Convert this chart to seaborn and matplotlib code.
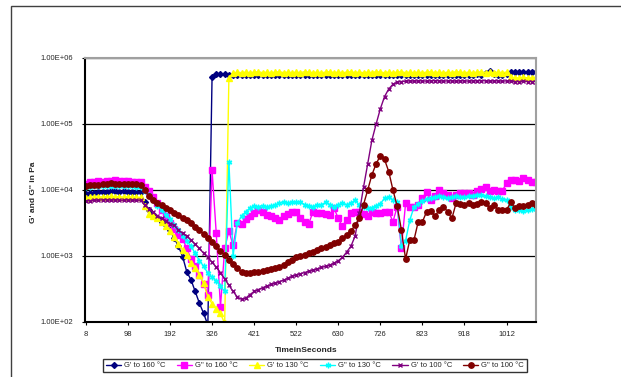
import numpy as np
import pandas as pd
import matplotlib
matplotlib.use("Agg")
import matplotlib.pyplot as plt
import seaborn as sns
from matplotlib.ticker import FixedLocator, FixedFormatter, NullLocator
from matplotlib.patches import Rectangle

# category axis: one slot per reading, time label on every 10th reading
tick_pos = [0, 10, 20, 30, 40, 50, 60, 70, 80, 90, 100]
tick_lab = ["8", "98", "192", "326", "421", "522", "630", "726", "823", "918", "1012"]
y_ticks = [1e2, 1e3, 1e4, 1e5, 1e6]
y_lab = ["1.00E+02", "1.00E+03", "1.00E+04", "1.00E+05", "1.00E+06"]

# G' 160 C
g1_160 = [8800, 9000, 9100, 9300, 9300, 9400, 9500, 9500, 9400, 9500,
          9400, 9400, 9300, 9200, 6500, 5000, 4200, 3700, 3300, 2900,
          2450, 1860, 1410, 980, 575, 435, 290, 192, 135, 90,
          5.1e5, 5.7e5, 5.7e5, 5.7e5, 5.6e5, 5.5e5, 5.5e5, 5.6e5, 5.5e5, 5.5e5,
          5.5e5, 5.6e5, 5.5e5, 5.5e5, 5.5e5, 5.6e5, 5.5e5, 5.5e5, 5.6e5, 5.5e5,
          5.5e5, 5.5e5, 5.6e5, 5.5e5, 5.5e5, 5.5e5, 5.6e5, 5.5e5, 5.5e5, 5.5e5,
          5.6e5, 5.5e5, 5.5e5, 5.5e5, 5.6e5, 5.5e5, 5.5e5, 5.6e5, 5.5e5, 5.5e5,
          5.5e5, 5.6e5, 5.5e5, 5.5e5, 5.6e5, 5.5e5, 5.5e5, 5.5e5, 5.6e5, 5.5e5,
          5.5e5, 5.6e5, 5.5e5, 5.5e5, 5.5e5, 5.6e5, 5.5e5, 5.5e5, 5.6e5, 5.5e5,
          5.5e5, 5.6e5, 5.5e5, 5.7e5, 5.6e5, 6.0e5, 6.4e5, 5.8e5, 5.6e5, 5.6e5,
          5.7e5, 6.1e5, 6.2e5, 6.2e5, 6.2e5, 6.1e5, 6.2e5, 6.2e5]
# G'' 160 C
g2_160 = [12500, 13000, 13200, 13500, 13300, 13500, 13800, 14000, 13800, 13600,
          13500, 13400, 13200, 13000, 11000, 9500, 7800, 6300, 5000, 4000,
          3200, 2600, 2100, 1800, 1300, 900, 700, 520, 380, 260,
          20000, 2200, 170, 1300, 2400, 1450, 3200, 3100, 3600, 4100,
          4500, 5000, 4600, 4200, 4000, 3700, 3500, 4100, 4400, 4600,
          4700, 3700, 3300, 3100, 4700, 4500, 4450, 4300, 4200, 5300,
          3700, 2800, 3500, 4450, 4700, 4700, 4300, 4000, 4700, 4500,
          4450, 4700, 4700, 3300, 5600, 1300, 6300, 5600, 5500, 6000,
          7500, 9400, 7000, 8000, 10000, 8900, 8500, 7500, 8400, 8900,
          9000, 9000, 8500, 9500, 10500, 11200, 9500, 10000, 9500, 9800,
          12600, 14200, 14200, 13500, 15100, 14000, 13400, 13000]
# G' 130 C
g1_130 = [7600, 7700, 7800, 7800, 7900, 7900, 8000, 7900, 7900, 7800,
          7900, 7800, 7800, 7700, 5800, 4350, 4050, 3730, 3300, 2850,
          2410, 1960, 1520, 1230, 1040, 780, 650, 515, 385, 240,
          190, 160, 135, 95, 5.0e5, 5.9e5, 6.1e5, 6.0e5, 6.1e5, 6.0e5,
          6.1e5, 6.2e5, 6.0e5, 6.1e5, 6.0e5, 6.1e5, 6.2e5, 6.0e5, 6.1e5, 6.0e5,
          6.1e5, 6.0e5, 6.2e5, 6.1e5, 6.0e5, 6.1e5, 6.0e5, 6.1e5, 6.2e5, 6.0e5,
          6.1e5, 6.0e5, 6.1e5, 6.2e5, 6.0e5, 6.1e5, 6.0e5, 6.1e5, 6.0e5, 6.2e5,
          6.1e5, 6.0e5, 6.1e5, 6.0e5, 6.1e5, 6.2e5, 6.0e5, 6.1e5, 6.0e5, 6.1e5,
          6.0e5, 6.1e5, 6.2e5, 6.0e5, 6.1e5, 6.0e5, 6.1e5, 6.0e5, 6.2e5, 6.1e5,
          6.0e5, 6.1e5, 6.0e5, 6.1e5, 6.2e5, 6.0e5, 6.1e5, 6.0e5, 6.1e5, 6.0e5,
          6.1e5, 5.1e5, 5.0e5, 5.0e5, 5.1e5, 5.0e5, 5.0e5, 5.1e5]
# G'' 130 C
g2_130 = [11000, 11200, 11300, 11500, 11500, 11400, 11600, 11500, 11400, 11500,
          11300, 11300, 11200, 11000, 9500, 8500, 7000, 5800, 5000, 4200,
          3600, 3000, 2500, 2000, 1700, 1400, 1100, 850, 700, 550,
          480, 420, 350, 290, 27000, 1000, 3150, 4000, 4700, 5300,
          5800, 5600, 5800, 5600, 5700, 6000, 6300, 6600, 6400, 6500,
          6600, 6600, 6000, 5800, 5600, 6000, 6000, 6500, 6000, 5600,
          6000, 6300, 6000, 6300, 7000, 5900, 5500, 5300, 5400, 5800,
          6200, 7500, 7800, 7000, 6500, 1400, 1700, 3500, 5500, 6200,
          6800, 7200, 7500, 7800, 8000, 7700, 7500, 7700, 8000, 7700,
          7800, 8000, 8200, 8500, 8300, 8000, 7800, 7500, 7800, 7300,
          7000, 5500, 5000, 5000, 4800, 4900, 5100, 5200]
# G' 100 C
g1_100 = [6800, 6900, 7000, 7000, 7100, 7100, 7000, 7100, 7000, 7000,
          7100, 7000, 7000, 7000, 5900, 5200, 4700, 4100, 3700, 3400,
          3100, 2900, 2500, 2200, 2000, 1750, 1500, 1300, 1100, 950,
          800, 680, 560, 450, 360, 290, 240, 220, 230, 260,
          290, 310, 330, 350, 370, 390, 410, 430, 460, 490,
          520, 540, 560, 590, 610, 640, 670, 700, 730, 780,
          850, 950, 1150, 1400, 2000, 4500, 11000, 25000, 57000, 100000,
          170000, 260000, 340000, 400000, 430000, 440000, 445000, 450000, 445000, 450000,
          450000, 445000, 450000, 455000, 450000, 445000, 450000, 450000, 445000, 450000,
          450000, 445000, 450000, 450000, 455000, 450000, 445000, 450000, 450000, 445000,
          450000, 445000, 440000, 440000, 445000, 440000, 440000, 440000]
# G'' 100 C
g2_100 = [11500, 11800, 12000, 12000, 12200, 12500, 12700, 12500, 12300, 12500,
          12400, 12300, 12200, 12000, 10000, 8000, 7100, 6300, 5900, 5350,
          5000, 4500, 4200, 3800, 3550, 3150, 2750, 2450, 2150, 1860,
          1620, 1400, 1200, 1040, 880, 760, 660, 575, 560, 560,
          565, 575, 590, 610, 630, 655, 690, 740, 800, 870,
          950, 1000, 1050, 1100, 1150, 1230, 1300, 1380, 1450, 1550,
          1650, 1850, 2080, 2400, 2900, 3800, 6000, 10000, 17000, 25000,
          33000, 29000, 19000, 10000, 5700, 2500, 900, 1750, 1750, 3300,
          3300, 4700, 4800, 4000, 5000, 5600, 4700, 3700, 6300, 6200,
          6000, 6300, 6000, 6200, 6650, 6300, 5300, 5900, 5000, 5000,
          5000, 6500, 5300, 5800, 5800, 6000, 6300, 6000]

names = ["G' to 160 \u00b0C", "G'' to 160 \u00b0C", "G' to 130 \u00b0C",
         "G'' to 130 \u00b0C", "G' to 100 \u00b0C", "G'' to 100 \u00b0C"]
series = [g1_160, g2_160, g1_130, g2_130, g1_100, g2_100]
colors = ["#000080", "#FF00FF", "#FFFF00", "#00FFFF", "#800080", "#800000"]
markers = ["D", "s", "^", (6, 2, 0), "x", "o"]
msizes = [3.0, 4.6, 4.3, 4.0, 3.2, 3.9]

sns.set_style("white")
plt.rcParams['font.family'] = ['Liberation Sans', 'DejaVu Sans']

fig = plt.figure(figsize=(6.21, 3.77), dpi=100)
ax = fig.add_axes([85/621, 1 - 322/377, 451/621, 264/377])

for name, vals, c, m, ms in zip(names, series, colors, markers, msizes):
    df = pd.DataFrame({"reading": np.arange(len(vals)), "G": vals})
    sns.lineplot(data=df, x="reading", y="G", color=c, marker=m, markersize=ms,
                 markeredgecolor=c, markerfacecolor=c, markeredgewidth=1.0,
                 linewidth=1.0, label=name, ax=ax)

ax.set_yscale("log")
ax.set_ylim(1e2, 1e6)
ax.set_xlim(-0.2, 107)
ax.yaxis.set_major_locator(FixedLocator(y_ticks))
ax.yaxis.set_major_formatter(FixedFormatter(y_lab))
ax.yaxis.set_minor_locator(NullLocator())
ax.set_xticks(tick_pos)
ax.set_xticklabels(tick_lab)
ax.tick_params(axis="both", direction="out", length=2.5, width=0.8,
               color="black", labelsize=5.5, bottom=True, left=True)
ax.tick_params(axis="y", pad=6)
ax.tick_params(axis="x", pad=4)

ax.yaxis.grid(True, color="black", linewidth=0.9)
ax.xaxis.grid(False)
for s in ["left", "bottom"]:
    ax.spines[s].set_color("black")
    ax.spines[s].set_linewidth(1.5)
for s in ["top", "right"]:
    ax.spines[s].set_color("#a0a0a0")
    ax.spines[s].set_linewidth(1.5)

ax.set_xlabel("TimeinSeconds", fontsize=6, fontweight="bold")
ax.set_ylabel("G' and G'' in Pa", fontsize=6, fontweight="bold")
ax.xaxis.set_label_coords(0.49, -0.095)
ax.yaxis.set_label_coords(-0.106, 0.49)

leg = ax.legend(loc="center", bbox_to_anchor=(315/621, 1 - 365.5/377),
                bbox_transform=fig.transFigure, ncol=6, fontsize=5.5,
                frameon=True, fancybox=False, edgecolor="black",
                handlelength=2.0, handletextpad=0.4, columnspacing=1.45,
                borderpad=0.35, borderaxespad=0)
leg.get_frame().set_linewidth(1.0)

# outer chart frame (left and top edges visible)
fig.patches.append(Rectangle((11/621, -0.2), 2.0, 1 - 6/377 + 0.2,
                             transform=fig.transFigure, fill=False,
                             edgecolor="#404040", linewidth=1.0))

fig.savefig("out.png", dpi=100)
